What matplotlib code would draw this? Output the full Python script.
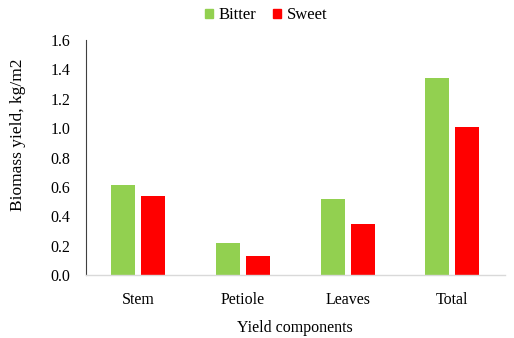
import numpy as np
import matplotlib.pyplot as plt
from matplotlib.patches import Patch

components = ["Stem", "Petiole", "Leaves", "Total"]
bitter = [0.61, 0.22, 0.52, 1.34]
sweet = [0.54, 0.13, 0.35, 1.01]
yticks = [0.0, 0.2, 0.4, 0.6, 0.8, 1.0, 1.2, 1.4, 1.6]

plt.rcParams["font.family"] = ["Liberation Serif", "DejaVu Serif"]

fig = plt.figure(figsize=(5.14, 3.38), dpi=100)
ax = fig.add_axes([0.167, 0.186, 0.815, 0.696])

x = np.arange(len(components))
w = 0.23
off = 0.143
ax.bar(x - off, bitter, w, color="#92D050")
ax.bar(x + off, sweet, w, color="#FF0000")

ax.set_xlim(-0.5, len(components) - 0.5)
ax.set_ylim(0, 1.6)
ax.set_yticks(yticks)
ax.set_yticklabels([f"{v:.1f}" for v in yticks])
ax.set_xticks(x)
ax.set_xticklabels(components)
ax.tick_params(axis="both", length=0, labelsize=11.5, colors="black")
ax.tick_params(axis="y", pad=11)
ax.tick_params(axis="x", pad=12)

for s in ["top", "right"]:
    ax.spines[s].set_visible(False)
ax.spines["left"].set_color("#404040")
ax.spines["left"].set_linewidth(0.8)
ax.spines["bottom"].set_color("#d9d9d9")
ax.spines["bottom"].set_linewidth(1.0)

ax.set_xlabel("Yield components", fontsize=11.5, labelpad=9)
ax.set_ylabel("Biomass yield, kg/m2", fontsize=12.5, va="center")
ax.yaxis.set_label_coords(-0.163, 0.595)

handles = [Patch(color="#92D050", label="Bitter"), Patch(color="#FF0000", label="Sweet")]
fig.legend(handles=handles, loc="center", bbox_to_anchor=(0.518, 0.955), ncol=2,
           frameon=False, fontsize=12, handlelength=0.5, handleheight=0.5,
           handletextpad=0.35, columnspacing=1.0)

fig.savefig("out.png", dpi=100)
